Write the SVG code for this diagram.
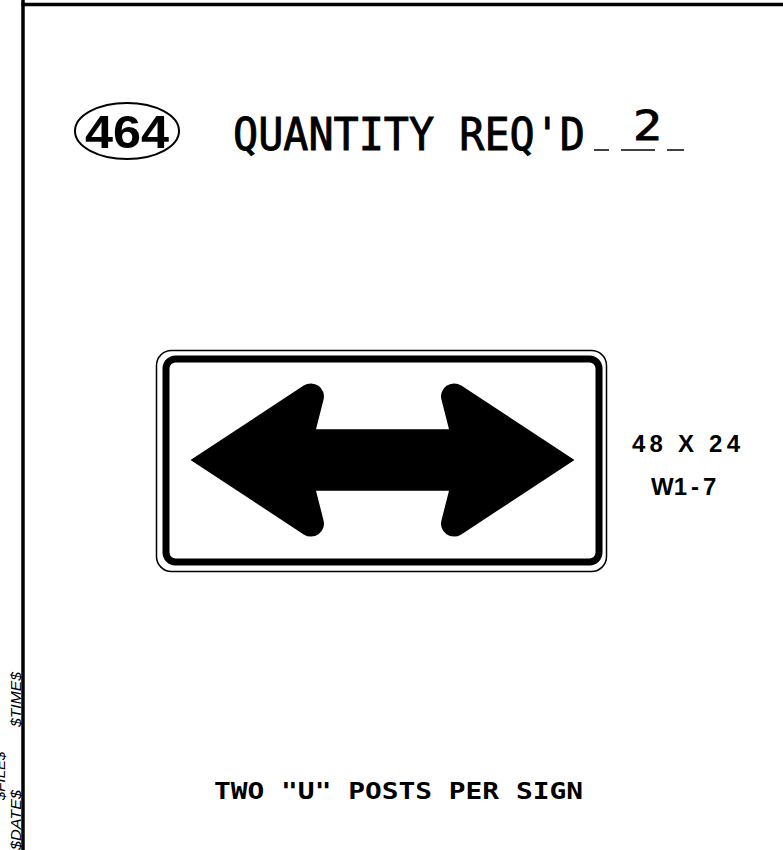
<svg xmlns="http://www.w3.org/2000/svg" width="783" height="850" viewBox="0 0 783 850">
<style>
.frame{stroke:#000;stroke-width:3.5;fill:none}
.mono{font-family:"DejaVu Sans Mono","Liberation Mono",monospace;fill:#000}
.sans{font-family:"Liberation Sans",Arial,sans-serif;font-weight:bold;fill:#000}
.meta{font-family:"Liberation Sans",Arial,sans-serif;font-style:italic;font-size:15px;fill:#000}
</style>
<rect width="783" height="850" fill="#fff"/>
<g id="frame">
<line class="frame" x1="23" y1="0" x2="23" y2="850"/>
<line class="frame" x1="21.5" y1="4.5" x2="783" y2="4.5"/>
</g>
<g id="meta">
<text class="meta" transform="translate(5,800) rotate(-90)">$FILE$</text>
<text class="meta" transform="translate(21,727) rotate(-90)" textLength="55" lengthAdjust="spacingAndGlyphs">$TIME$</text>
<text class="meta" transform="translate(21,850) rotate(-90)" textLength="60" lengthAdjust="spacingAndGlyphs">$DATE$</text>
</g>
<g id="title">
<ellipse cx="127" cy="131" rx="52" ry="28" fill="none" stroke="#000" stroke-width="2"/>
<text class="sans" x="85" y="148" font-size="46" textLength="84" lengthAdjust="spacingAndGlyphs">464</text>
<text class="mono" x="233" y="150" font-size="44" stroke="#000" stroke-width="0.9" textLength="352" lengthAdjust="spacingAndGlyphs">QUANTITY REQ'D</text>
<text class="mono" x="633" y="140" font-size="40" stroke="#000" stroke-width="0.9" textLength="29" lengthAdjust="spacingAndGlyphs">2</text>
<g stroke="#000" stroke-width="1.5">
<line x1="594" y1="150" x2="609" y2="150"/>
<line x1="621" y1="150" x2="655" y2="150"/>
<line x1="667" y1="150" x2="684" y2="150"/>
</g>
</g>
<g id="sign">
<rect x="156.5" y="350.5" width="450" height="221" rx="15" fill="#fff" stroke="#000" stroke-width="1.5"/>
<rect x="166" y="359" width="433" height="203" rx="9.5" fill="#fff" stroke="#000" stroke-width="7"/>
<path fill="#000" d="M190.5,460 L303.7,385.6 A13,13 0 0 1 323.5,399.8 L316,429.3 L449,429.3 L441.5,399.8 A13,13 0 0 1 461.3,385.6 L574.5,460 L461.3,534.4 A13,13 0 0 1 441.5,520.2 L449,490.7 L316,490.7 L323.5,520.2 A13,13 0 0 1 303.7,534.4 Z"/>
</g>
<g id="size-label">
<text class="sans" x="632" y="452" font-size="24" textLength="108" lengthAdjust="spacing">48 X 24</text>
<text class="sans" y="495" font-size="24"><tspan x="651">W1</tspan><tspan x="691">-</tspan><tspan x="703">7</tspan></text>
</g>
<g id="note">
<text class="mono" x="214" y="799" font-size="23" font-weight="bold" textLength="369" lengthAdjust="spacingAndGlyphs">TWO "U" POSTS PER SIGN</text>
</g>
</svg>
